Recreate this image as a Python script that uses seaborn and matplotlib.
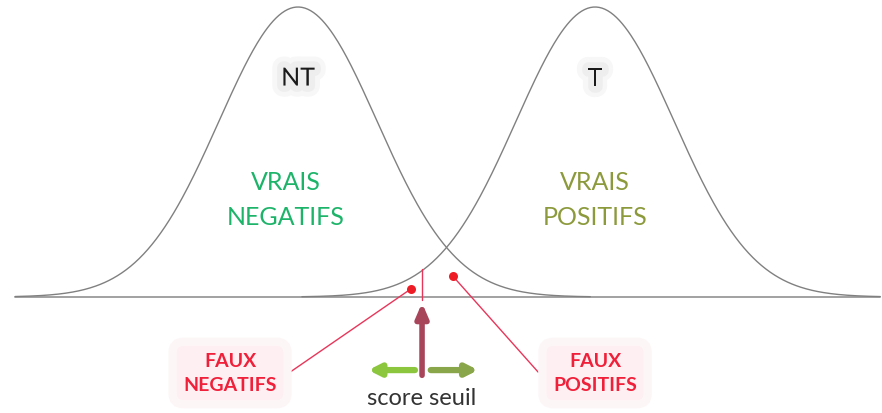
import numpy as np
import pandas as pd
import matplotlib
matplotlib.use("Agg")
import matplotlib.pyplot as plt
import matplotlib.patheffects as pe
import seaborn as sns

# Score distributions: non-target (NT) and target (T) populations
groups = ["NT", "T"]
group_means = [0.0, 3.76]
group_sd = [1.0, 1.0]
group_ranges = [(-3.58, 3.70), (0.05, 7.37)]
threshold = 1.57

# Example cases on either side of the threshold
fn_point = (1.43, 0.028)   # target scored below threshold
fp_point = (1.96, 0.072)   # non-target scored above threshold

sns.set_theme(style="white")
plt.rcParams["font.family"] = ["Lato", "DejaVu Sans"]

rows = []
for name, mu, sd, (lo, hi) in zip(groups, group_means, group_sd, group_ranges):
    xs = np.linspace(lo, hi, 400)
    ys = np.exp(-0.5 * ((xs - mu) / sd) ** 2)
    rows.append(pd.DataFrame({"score": xs, "density": ys, "group": name}))
curves = pd.concat(rows, ignore_index=True)

fig = plt.figure(figsize=(8.82, 4.14), dpi=100)
ax = fig.add_axes([0, 0, 1, 1])

sns.lineplot(data=curves, x="score", y="density", units="group", estimator=None,
             color="#808080", linewidth=1.0, ax=ax, legend=False)

ax.set_xlim(-3.772, 7.392)
ax.set_ylim(-0.40, 1.0276)
ax.axis("off")

# baseline
ax.plot([-3.58, 7.37], [0, 0], color="#9a9a9a", linewidth=1.3, zorder=1)

# threshold marker
ax.plot([threshold, threshold], [0.095, -0.01], color="#e8365a", linewidth=1.0, zorder=3)
ax.annotate("", xy=(threshold, -0.02), xytext=(threshold, -0.27),
            arrowprops=dict(arrowstyle="-|>,head_width=0.3,head_length=0.7",
                            color="#a8455a", linewidth=4.0, shrinkA=0, shrinkB=0))

# direction arrows around the threshold
ax.annotate("", xy=(0.89, -0.252), xytext=(1.48, -0.252),
            arrowprops=dict(arrowstyle="-|>,head_width=0.28,head_length=0.55",
                            color="#8cc63f", linewidth=4.5, shrinkA=0, shrinkB=0))
ax.annotate("", xy=(2.28, -0.252), xytext=(1.68, -0.252),
            arrowprops=dict(arrowstyle="-|>,head_width=0.28,head_length=0.55",
                            color="#8aa64a", linewidth=4.5, shrinkA=0, shrinkB=0))
ax.text(threshold, -0.345, "score seuil", ha="center", va="center",
        fontsize=17, color="#333333")

# misclassified examples
ax.plot([fn_point[0], -0.10], [fn_point[1], -0.259], color="#e8365a", linewidth=1.0, zorder=3)
ax.plot([fp_point[0], 3.04], [fp_point[1], -0.259], color="#e8365a", linewidth=1.0, zorder=3)
ax.scatter([fn_point[0], fp_point[0]], [fn_point[1], fp_point[1]],
           s=42, color="#ee1c25", zorder=4, linewidths=0)

glow = [pe.withStroke(linewidth=16, foreground="#f7f7f7"),
        pe.withStroke(linewidth=9, foreground="#eeeeee")]
ax.text(group_means[0], 0.755, "NT", ha="center", va="center", fontsize=18,
        color="#1a1a1a", path_effects=glow)
ax.text(group_means[1], 0.755, "T", ha="center", va="center", fontsize=18,
        color="#1a1a1a", path_effects=glow)

ax.text(-0.15, 0.338, "VRAIS\nNEGATIFS", ha="center", va="center", fontsize=18,
        color="#1db46a", linespacing=1.6)
ax.text(3.76, 0.338, "VRAIS\nPOSITIFS", ha="center", va="center", fontsize=18,
        color="#8c9a3c", linespacing=1.6)

box = dict(boxstyle="round,pad=0.55", facecolor="#fef0f2", edgecolor="#fdf6f7",
           linewidth=6)
ax.text(-0.86, -0.262, "FAUX\nNEGATIFS", ha="center", va="center", fontsize=14,
        fontweight="bold", color="#f0203a", linespacing=1.5, bbox=box)
ax.text(3.76, -0.262, "FAUX\nPOSITIFS", ha="center", va="center", fontsize=14,
        fontweight="bold", color="#f0203a", linespacing=1.5, bbox=box)

fig.savefig("out.png", dpi=100, facecolor="white")
